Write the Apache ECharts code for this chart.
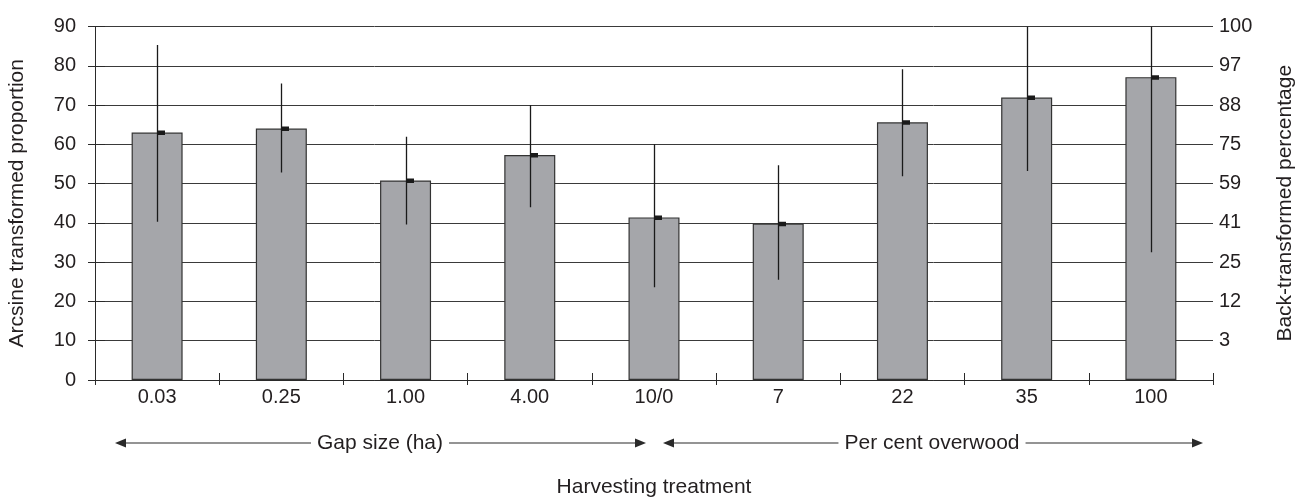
<!DOCTYPE html>
<html>
<head>
<meta charset="utf-8">
<script src="https://cdn.jsdelivr.net/npm/echarts@6/dist/echarts.min.js"></script>
<style>
html,body{margin:0;padding:0;background:#fff;}
#chart{width:1295px;height:497px;}
</style>
</head>
<body>
<div id="chart"></div>
<script>
// ---- data ----
var categories = ['0.03', '0.25', '1.00', '4.00', '10/0', '7', '22', '35', '100'];
var means      = [63.0, 64.0, 50.8, 57.3, 41.4, 39.8, 65.6, 71.9, 77.1];
var errLow     = [40.3, 52.8, 39.6, 44.0, 23.6, 25.5, 51.9, 53.2, 32.5];
var errHigh    = [85.3, 75.5, 61.9, 70.0, 60.0, 54.7, 79.1, 90.0, 90.0];
var leftTicks  = [0, 10, 20, 30, 40, 50, 60, 70, 80, 90];
var rightTickLabels = ['', '3', '12', '25', '41', '59', '75', '88', '97', '100'];
var groupLabels = ['Gap size (ha)', 'Per cent overwood'];

var txt = '#231f20';
var font = 'Liberation Sans, Arial, Helvetica, sans-serif';
var tickFs = 20;
var nameFs = 21;

var chart = echarts.init(document.getElementById('chart'), null, {renderer: 'canvas'});

var errData = categories.map(function (c, i) { return [i, errLow[i], errHigh[i], means[i]]; });

var option = {
  animation: false,
  backgroundColor: '#fff',
  textStyle: {fontFamily: font},
  grid: {left: 95, right: 82, top: 26.5, bottom: 117, containLabel: false, outerBoundsMode: 'none'},
  xAxis: [{
    type: 'category',
    data: categories,
    position: 'bottom',
    axisLine: {show: true, lineStyle: {color: '#2a2a2a', width: 1}},
    axisTick: {show: true, inside: false, length: 5, lineStyle: {color: '#2a2a2a', width: 1}},
    axisLabel: {color: txt, fontSize: tickFs, margin: 7, fontFamily: font},
    name: 'Harvesting treatment',
    nameLocation: 'middle',
    nameGap: 97,
    nameTextStyle: {color: txt, fontSize: nameFs, fontFamily: font},
    splitLine: {show: false}
  }, {
    type: 'category',
    data: categories,
    position: 'bottom',
    axisLine: {show: false},
    axisTick: {show: true, inside: true, length: 7, lineStyle: {color: '#2a2a2a', width: 1}},
    axisLabel: {show: false},
    splitLine: {show: false}
  }],
  yAxis: [{
    type: 'value',
    min: 0, max: 90, interval: 10,
    position: 'left',
    axisLine: {show: true, lineStyle: {color: '#2a2a2a', width: 1}},
    axisTick: {show: true, inside: false, length: 7, lineStyle: {color: '#2a2a2a', width: 1}},
    axisLabel: {color: txt, fontSize: tickFs, margin: 19, fontFamily: font,
      formatter: function (v) { return leftTicks.indexOf(v) >= 0 ? String(v) : ''; }},
    splitLine: {show: true, lineStyle: {color: '#3a3a3a', width: 1}},
    name: 'Arcsine transformed proportion',
    nameLocation: 'middle',
    nameGap: 67,
    nameRotate: 90,
    nameTextStyle: {color: txt, fontSize: nameFs, fontFamily: font}
  }, {
    type: 'value',
    min: 0, max: 90, interval: 10,
    position: 'left',
    axisLine: {show: false},
    axisTick: {show: true, inside: true, length: 10, lineStyle: {color: '#2a2a2a', width: 1}},
    axisLabel: {show: false},
    splitLine: {show: false}
  }, {
    type: 'value',
    min: 0, max: 90, interval: 10,
    position: 'right',
    axisLine: {show: false},
    axisTick: {show: false},
    axisLabel: {color: txt, fontSize: tickFs, margin: 6, fontFamily: font,
      formatter: function (v) { return rightTickLabels[Math.round(v / 10)] || ''; }},
    splitLine: {show: false},
    name: 'Back-transformed percentage',
    nameLocation: 'middle',
    nameGap: 62,
    nameRotate: 90,
    nameTextStyle: {color: txt, fontSize: nameFs, fontFamily: font}
  }],
  series: [{
    type: 'bar',
    data: means,
    barWidth: 51,
    itemStyle: {color: '#a5a6aa', borderColor: '#333', borderWidth: 1.2},
    z: 2
  }, {
    type: 'custom',
    data: errData,
    z: 3,
    clip: true,
    renderItem: function (params, api) {
      var i = api.value(0);
      var lo = api.coord([i, api.value(1)]);
      var hi = api.coord([i, api.value(2)]);
      var mid = api.coord([i, api.value(3)]);
      var x = Math.round(lo[0]) + 0.5;
      return {
        type: 'group',
        children: [{
          type: 'line',
          shape: {x1: x, y1: lo[1], x2: x, y2: hi[1]},
          style: {stroke: '#1a1a1a', lineWidth: 1.3}
        }, {
          type: 'rect',
          shape: {x: x - 0.5, y: mid[1] - 2, width: 8, height: 4.5},
          style: {fill: '#1a1a1a'}
        }]
      };
    }
  }],
  graphic: [
    // group arrow 1
    {type: 'line', shape: {x1: 122, y1: 443, x2: 640, y2: 443}, style: {stroke: '#2a2a2a', lineWidth: 1.2}, z: 10},
    {type: 'polygon', shape: {points: [[115, 443], [126, 438.5], [126, 447.5]]}, style: {fill: '#2a2a2a'}, z: 10},
    {type: 'polygon', shape: {points: [[646, 443], [635, 438.5], [635, 447.5]]}, style: {fill: '#2a2a2a'}, z: 10},
    {type: 'text', x: 380, y: 443, style: {text: groupLabels[0], fill: txt, fontSize: nameFs, fontFamily: font,
      align: 'center', verticalAlign: 'middle', backgroundColor: '#fff', padding: [2, 6]}, z: 11},
    // group arrow 2
    {type: 'line', shape: {x1: 670, y1: 443, x2: 1196, y2: 443}, style: {stroke: '#2a2a2a', lineWidth: 1.2}, z: 10},
    {type: 'polygon', shape: {points: [[663, 443], [674, 438.5], [674, 447.5]]}, style: {fill: '#2a2a2a'}, z: 10},
    {type: 'polygon', shape: {points: [[1203, 443], [1192, 438.5], [1192, 447.5]]}, style: {fill: '#2a2a2a'}, z: 10},
    {type: 'text', x: 932, y: 443, style: {text: groupLabels[1], fill: txt, fontSize: nameFs, fontFamily: font,
      align: 'center', verticalAlign: 'middle', backgroundColor: '#fff', padding: [2, 6]}, z: 11}
  ]
};
chart.setOption(option);
</script>
</body>
</html>
